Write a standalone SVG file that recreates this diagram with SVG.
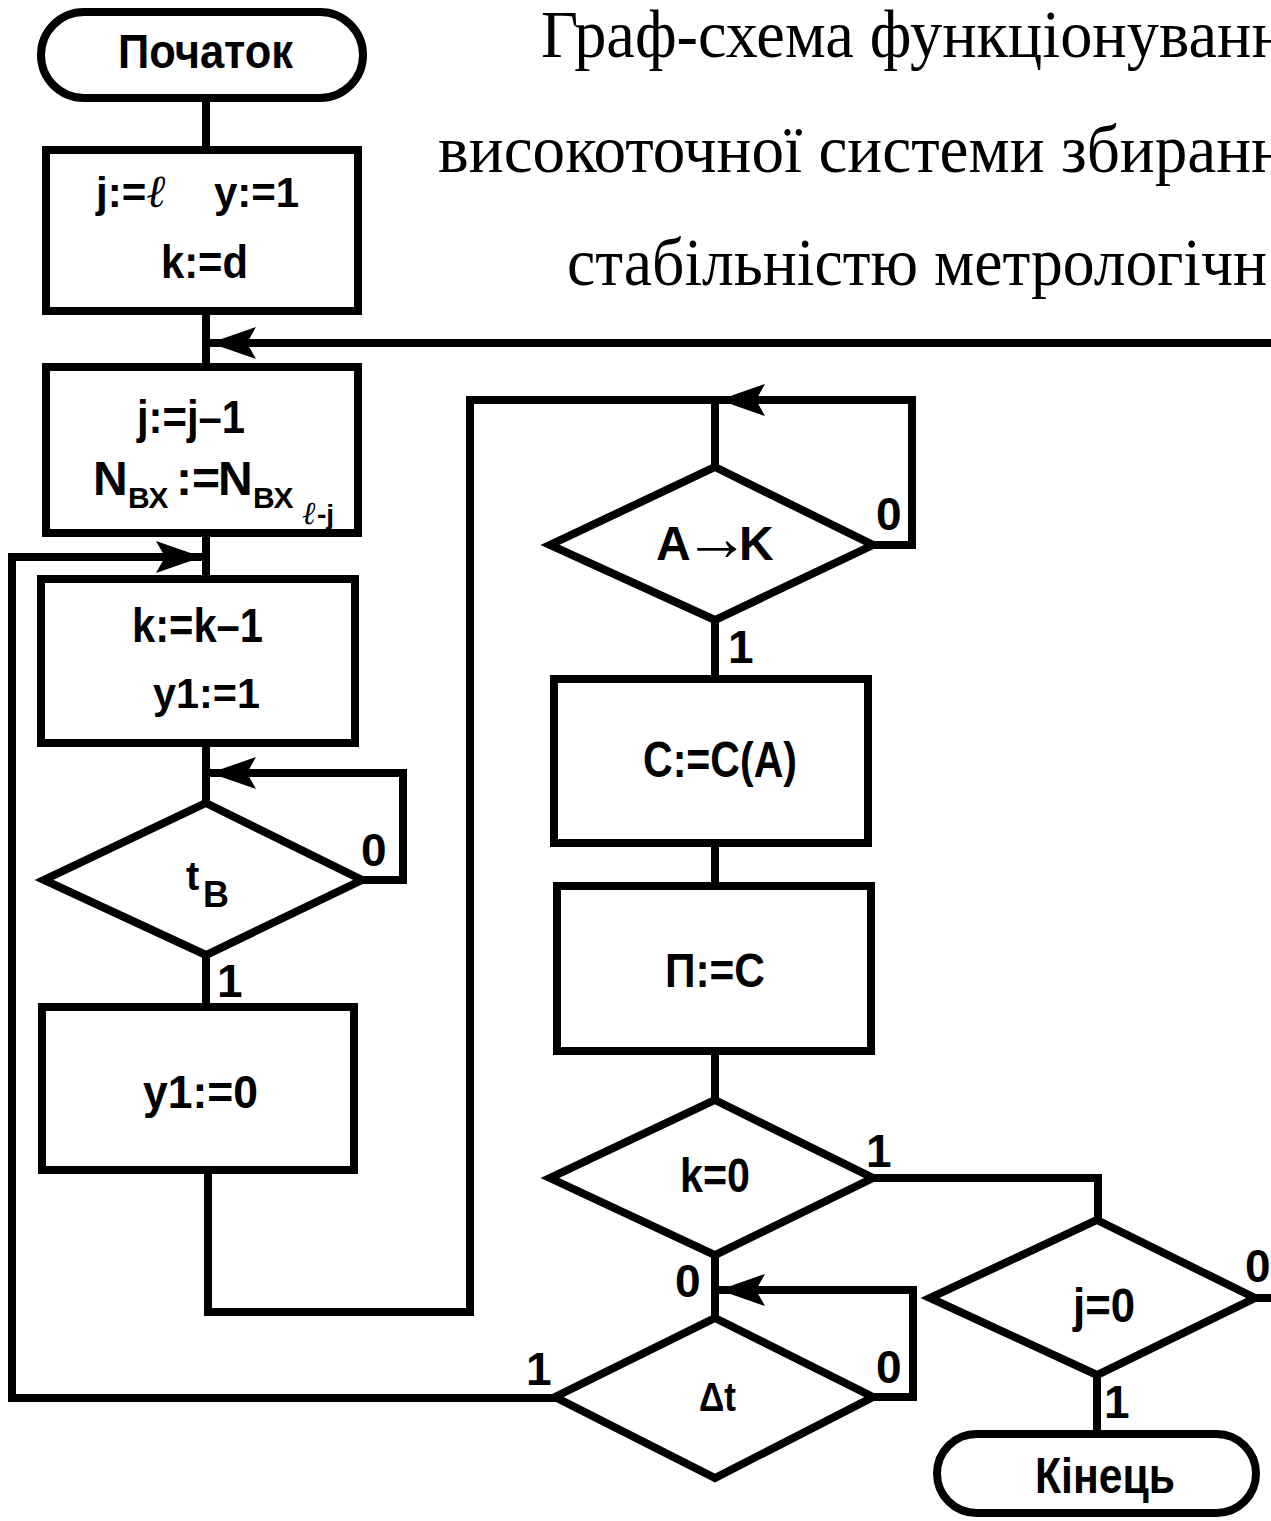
<svg xmlns="http://www.w3.org/2000/svg" width="1271" height="1521" viewBox="0 0 1271 1521">
  <style>
    .shape { fill: #fff; stroke: #000; stroke-width: 8; stroke-linejoin: miter; }
    .wire { fill: none; stroke: #000; stroke-width: 8; stroke-linejoin: miter; stroke-linecap: square; }
    .lbl { font-family: "Liberation Sans", Arial, sans-serif; font-weight: bold; fill: #000; }
    .mark { font-family: "Liberation Sans", Arial, sans-serif; font-weight: bold; font-size: 46px; fill: #000; }
    .ttl { font-family: "Liberation Serif", "Times New Roman", serif; font-size: 68px; fill: #000; }
    .scr { font-family: "Liberation Serif", "Times New Roman", serif; font-style: italic; font-weight: normal; }
  </style>
  <defs>
    <marker id="arrow" markerUnits="userSpaceOnUse" viewBox="0 0 46 32" refX="46" refY="16" markerWidth="46" markerHeight="32" orient="auto">
      <path d="M46,16 L0,0 L9,16 L0,32 Z" fill="#000"/>
    </marker>
  </defs>
  <rect width="1271" height="1521" fill="#fff"/>

  <!-- title, running past the right edge -->
  <g id="title">
    <text class="ttl" x="541" y="57" textLength="745" lengthAdjust="spacingAndGlyphs">Граф-схема функціонуванн</text>
    <text class="ttl" x="438" y="172" textLength="848" lengthAdjust="spacingAndGlyphs">високоточної системи збиранн</text>
    <text class="ttl" x="567" y="285" textLength="700" lengthAdjust="spacingAndGlyphs">стабільністю метрологічн</text>
  </g>

  <!-- connectors -->
  <g id="connectors">
    <path class="wire" d="M206,98 V150"/>
    <path class="wire" d="M206,311 V367"/>
    <path class="wire" d="M1275,343 H210" marker-end="url(#arrow)"/>
    <path class="wire" d="M206,533 V579"/>
    <path class="wire" d="M555,1398 H12 V557 H202" marker-end="url(#arrow)"/>
    <path class="wire" d="M206,743 V803"/>
    <path class="wire" d="M362,880 H403 V773 H210" marker-end="url(#arrow)"/>
    <path class="wire" d="M206,955 V1007"/>
    <path class="wire" d="M208,1170 V1312 H470 V400 H715 V467"/>
    <path class="wire" d="M873,545 H912 V400 H719" marker-end="url(#arrow)"/>
    <path class="wire" d="M715,620 V679"/>
    <path class="wire" d="M715,843 V886"/>
    <path class="wire" d="M715,1051 V1100"/>
    <path class="wire" d="M873,1178 H1098 V1220"/>
    <path class="wire" d="M715,1255 V1318"/>
    <path class="wire" d="M873,1397 H913 V1290 H719" marker-end="url(#arrow)"/>
    <path class="wire" d="M1255,1298 H1275"/>
    <path class="wire" d="M1097,1375 V1434"/>
  </g>

  <!-- start -->
  <g id="start">
    <rect class="shape" x="41" y="12" width="322" height="86" rx="43"/>
    <text class="lbl" x="118" y="68" font-size="48" textLength="175" lengthAdjust="spacingAndGlyphs">Початок</text>
  </g>

  <!-- initial assignments -->
  <g id="init">
    <rect class="shape" x="46" y="150" width="312" height="161"/>
    <text class="lbl" y="207" font-size="42"><tspan x="96">j:=</tspan><tspan x="146" class="scr" font-size="46">ℓ</tspan><tspan x="214">y:=1</tspan></text>
    <text class="lbl" x="161" y="278" font-size="46" textLength="87" lengthAdjust="spacingAndGlyphs">k:=d</text>
  </g>

  <!-- next channel -->
  <g id="next-channel">
    <rect class="shape" x="46" y="367" width="312" height="166"/>
    <text class="lbl" x="137" y="433" font-size="46" textLength="108" lengthAdjust="spacingAndGlyphs">j:=j–1</text>
    <text class="lbl" font-size="48"><tspan x="93" y="495">N</tspan><tspan x="128" y="508" font-size="30">ВХ</tspan><tspan x="176" y="495">:=</tspan><tspan x="218" y="495">N</tspan><tspan x="253" y="508" font-size="30">ВХ</tspan><tspan x="302" y="524" class="scr" font-size="32">ℓ</tspan><tspan x="317" y="524" font-size="28">-j</tspan></text>
  </g>

  <!-- counter step -->
  <g id="counter">
    <rect class="shape" x="41" y="579" width="314" height="164"/>
    <text class="lbl" x="132" y="642" font-size="48" textLength="131" lengthAdjust="spacingAndGlyphs">k:=k–1</text>
    <text class="lbl" x="153" y="708" font-size="42" textLength="107" lengthAdjust="spacingAndGlyphs">y1:=1</text>
  </g>

  <!-- wait for tB -->
  <g id="wait-tb">
    <polygon class="shape" points="206,803 362,880 206,955 44,880"/>
    <text class="lbl"><tspan x="186" y="890" font-size="40">t</tspan><tspan x="203" y="907" font-size="36">B</tspan></text>
    <text class="mark" x="361" y="866">0</text>
    <text class="mark" x="217" y="997">1</text>
  </g>

  <!-- reset -->
  <g id="reset">
    <rect class="shape" x="42" y="1007" width="312" height="163"/>
    <text class="lbl" x="143" y="1108" font-size="46" textLength="115" lengthAdjust="spacingAndGlyphs">y1:=0</text>
  </g>

  <!-- A to K check -->
  <g id="check-ak">
    <polygon class="shape" points="715,467 873,545 715,620 550,545"/>
    <text class="lbl" y="560" font-size="48"><tspan x="656">A</tspan><tspan x="684" font-weight="normal" font-size="66">→</tspan><tspan x="739">K</tspan></text>
    <text class="mark" x="876" y="530">0</text>
    <text class="mark" x="728" y="663">1</text>
  </g>

  <!-- read code -->
  <g id="read-code">
    <rect class="shape" x="554" y="679" width="314" height="164"/>
    <text class="lbl" x="643" y="777" font-size="50" textLength="154" lengthAdjust="spacingAndGlyphs">C:=C(A)</text>
  </g>

  <!-- store -->
  <g id="store">
    <rect class="shape" x="557" y="886" width="314" height="165"/>
    <text class="lbl" x="665" y="987" font-size="48" textLength="100" lengthAdjust="spacingAndGlyphs">П:=C</text>
  </g>

  <!-- k = 0 check -->
  <g id="check-k">
    <polygon class="shape" points="715,1100 873,1178 715,1255 550,1178"/>
    <text class="lbl" x="680" y="1192" font-size="48" textLength="70" lengthAdjust="spacingAndGlyphs">k=0</text>
    <text class="mark" x="866" y="1167">1</text>
    <text class="mark" x="675" y="1297">0</text>
  </g>

  <!-- delta t check -->
  <g id="check-dt">
    <polygon class="shape" points="715,1318 873,1397 715,1478 555,1397"/>
    <text class="lbl" x="699" y="1411" font-size="40" textLength="37" lengthAdjust="spacingAndGlyphs">Δt</text>
    <text class="mark" x="876" y="1383">0</text>
    <text class="mark" x="526" y="1385">1</text>
  </g>

  <!-- j = 0 check -->
  <g id="check-j">
    <polygon class="shape" points="1097,1220 1255,1298 1097,1375 930,1298"/>
    <text class="lbl" x="1073" y="1322" font-size="48" textLength="62" lengthAdjust="spacingAndGlyphs">j=0</text>
    <text class="mark" x="1245" y="1282">0</text>
    <text class="mark" x="1104" y="1418">1</text>
  </g>

  <!-- end -->
  <g id="end">
    <rect class="shape" x="937" y="1434" width="319" height="79" rx="39.5"/>
    <text class="lbl" x="1035" y="1493" font-size="50" textLength="140" lengthAdjust="spacingAndGlyphs">Кінець</text>
  </g>
</svg>
